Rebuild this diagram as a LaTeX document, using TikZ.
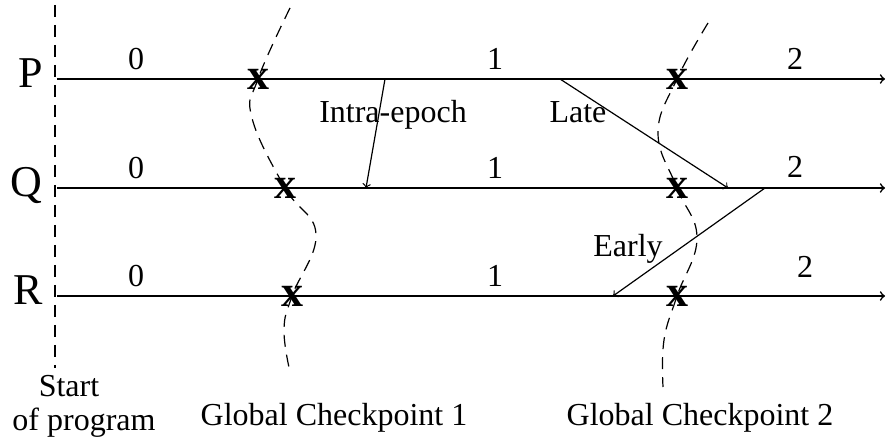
\documentclass[tikz,border=0pt]{standalone}
\usepackage{fontspec}
\setmainfont{Liberation Serif}
\begin{document}
\begin{tikzpicture}[
    x=0.5pt, y=-0.5pt,
    proc/.style={->, line width=0.8pt},
    msg/.style={->, line width=0.6pt},
    cut/.style={dash pattern=on 6pt off 4pt, line width=0.6pt},
    procname/.style={font=\fontsize{22}{26}\selectfont, inner sep=0pt, anchor=base east},
    txt/.style={font=\fontsize{16}{19}\selectfont, inner sep=0pt, anchor=base},
    ckpt/.style={font=\fontsize{22}{26}\selectfont\bfseries, inner sep=0pt}
]
\useasboundingbox (0,0) rectangle (887,442);

% Start of program
\coordinate (s0) at (55,5);
\coordinate (s1) at (55,368);
\draw[cut] (s0) -- (s1);
\node[txt] (start) at (69,397) {Start};
\node[txt] (prog) at (84,430) {of program};

% Process lines with epoch numbers
\foreach \p/\y in {P/79, Q/188, R/296} {
  \node[procname] (\p) at (43,\y+9) {\p};
  \coordinate (\p0) at (57,\y);
  \coordinate (\p1) at (885,\y);
  \draw[proc] (\p0) -- (\p1);
  \node[txt] (\p e0) at (136,\y-9) {0};
  \node[txt] (\p e1) at (495,\y-9) {1};
}
\node[txt] (Pe2) at (795,70) {2};
\node[txt] (Qe2) at (795,178) {2};
\node[txt] (Re2) at (805,278) {2};

% Checkpoints
\node[ckpt] (a1) at (258,79) {x};
\node[ckpt] (b1) at (285,188) {x};
\node[ckpt] (c1) at (292,296) {x};
\node[ckpt] (a2) at (677,79) {x};
\node[ckpt] (b2) at (677,188) {x};
\node[ckpt] (c2) at (677,296) {x};

% Global checkpoint lines
\draw[cut] plot[smooth, tension=0.7] coordinates {(290,8) (a1) (252,118) (b1) (316,234) (c1) (284,330) (290,372)};
\draw[cut] plot[smooth, tension=0.7] coordinates {(708,23) (a2) (658,133) (b2) (697,238) (c2) (664,340) (663,387)};
\node[txt] (gc1) at (334,425) {Global Checkpoint 1};
\node[txt] (gc2) at (700,425) {Global Checkpoint 2};

% Messages
\coordinate (i0) at (385,79);
\coordinate (i1) at (366,188);
\coordinate (l0) at (560,79);
\coordinate (l1) at (728,188);
\coordinate (e0) at (765,188);
\coordinate (e1) at (613,296);
\draw[msg] (i0) -- (i1);
\draw[msg] (l0) -- (l1);
\draw[msg] (e0) -- (e1);
\node[txt] (intra) at (393,123) {Intra-epoch};
\node[txt] (late) at (578,123) {Late};
\node[txt] (early) at (628,257) {Early};
\end{tikzpicture}
\end{document}
